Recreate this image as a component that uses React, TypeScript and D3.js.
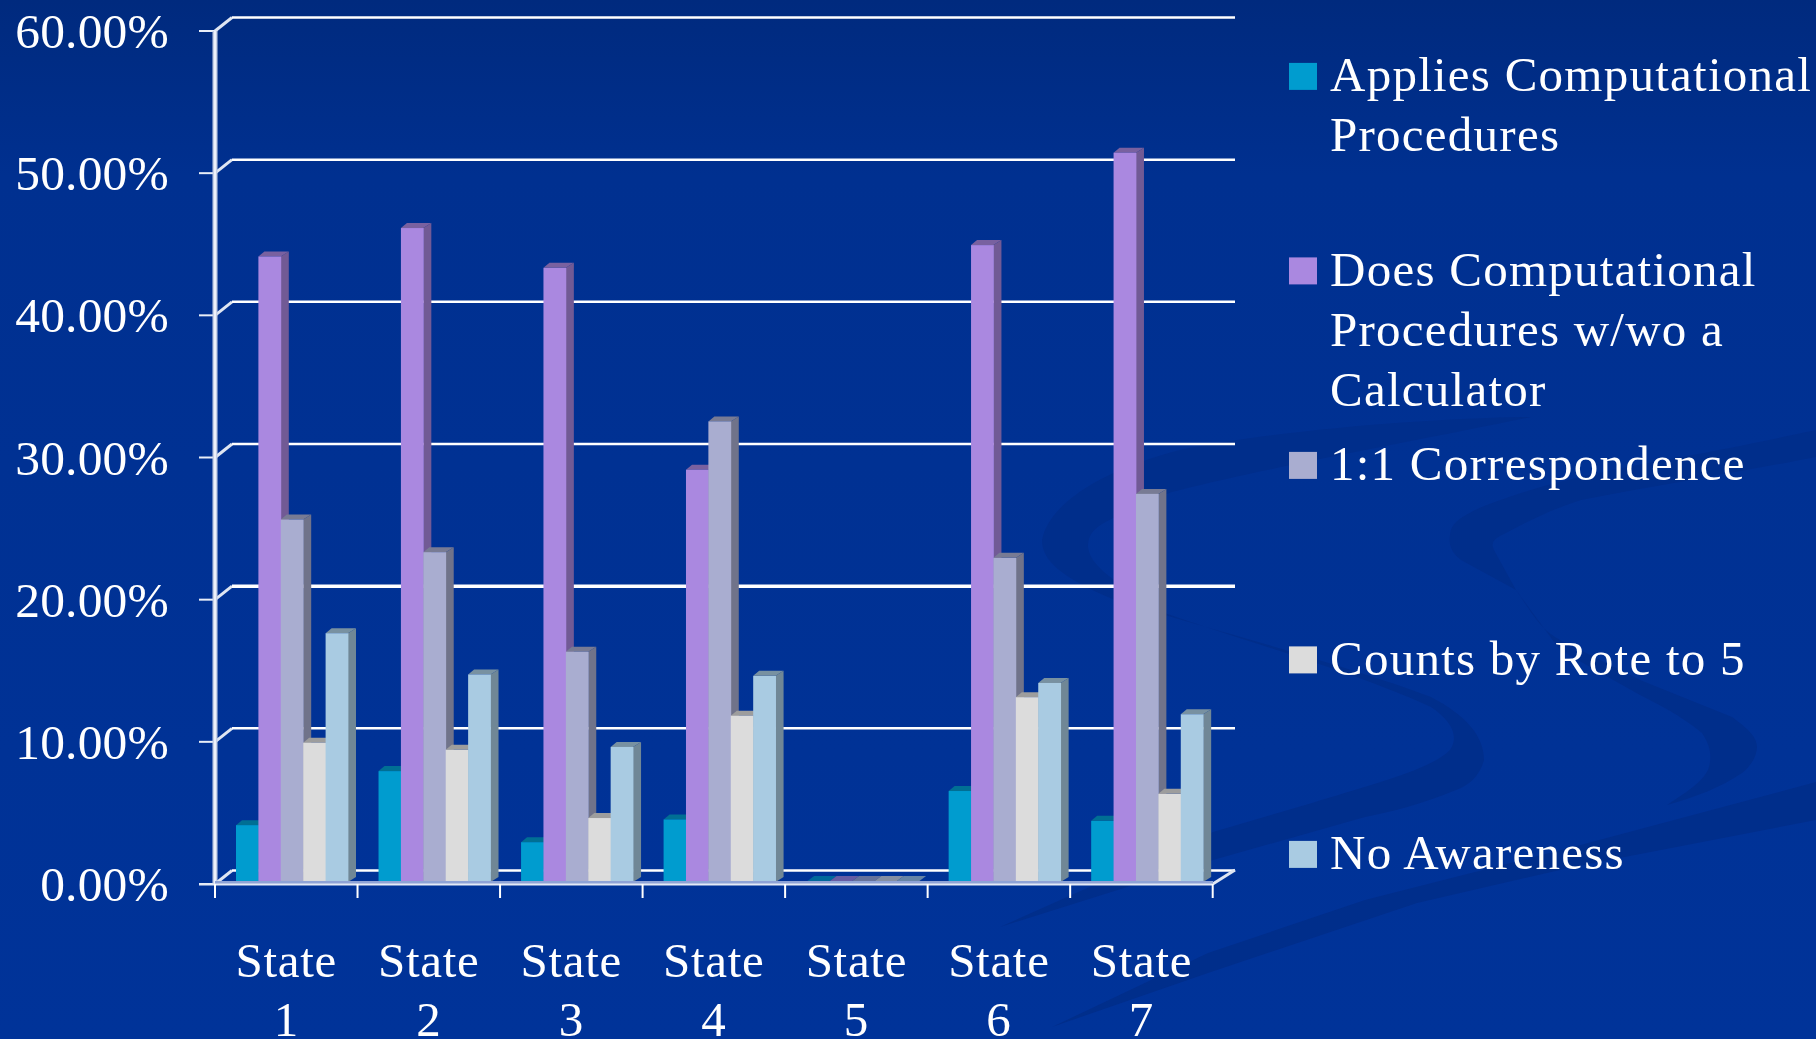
import React from "react";
import * as d3 from "d3";

const categories = ["State 1", "State 2", "State 3", "State 4", "State 5", "State 6", "State 7"];
const applies = [4.0, 7.8, 2.8, 4.4, 0, 6.4, 4.3];
const doesProc = [44.0, 46.0, 43.2, 29.0, 0, 44.8, 51.3];
const oneToOne = [25.5, 23.2, 16.2, 32.4, 0, 22.8, 27.3];
const rote = [9.8, 9.3, 4.5, 11.7, 0, 13.0, 6.2];
const noAware = [17.5, 14.6, 9.5, 14.5, 0, 14.0, 11.8];
const seriesValues = [applies, doesProc, oneToOne, rote, noAware];
const seriesColors = ["#009ccf", "#aa88e0", "#a9add0", "#dcdcdc", "#a9cbe2"];
const legendLines = [
  ["Applies Computational", "Procedures"],
  ["Does Computational", "Procedures w/wo a", "Calculator"],
  ["1:1 Correspondence"],
  ["Counts by Rote to 5"],
  ["No Awareness"],
];
const yTicks = [0, 10, 20, 30, 40, 50, 60];

const FONT = "'Liberation Serif', serif";
const W = 1816, H = 1039;
const DX = 17, DY = 13.5; // wall depth
const bx = 8, by = 5; // bar depth

const x = d3.scaleBand<string>().domain(categories).range([215, 1212.7]).paddingInner(0).paddingOuter(0);
const y = d3.scaleLinear().domain([0, 60]).range([884, 31]);
const bar = d3.scaleBand<number>().domain([0, 1, 2, 3, 4]).range([21, 133]);
const barBase = 882;
const yv = (v: number) => y(v) - (884 - barBase);

function Bars() {
  const order = [0, 1, 2, 3, 4];
  return (
    <g>
      {categories.map((c, ci) => (
        <g key={c}>
          {order.map((si) => {
            const v = seriesValues[si][ci];
            const col = d3.color(seriesColors[si])!;
            const x0 = x(c)! + bar(si)!;
            const w = bar.bandwidth();
            const t = yv(v);
            if (v === 0) {
              return (
                <polygon
                  key={si}
                  points={`${x0},${barBase} ${x0 + w},${barBase} ${x0 + w + bx},${barBase - 6} ${x0 + bx},${barBase - 6}`}
                  fill={col.darker(0.8).formatHex()}
                  opacity={0.8}
                />
              );
            }
            return (
              <g key={si}>
                <polygon points={`${x0 + w},${barBase} ${x0 + w + bx},${barBase - by} ${x0 + w + bx},${t - by} ${x0 + w},${t}`} fill={col.darker(1.15).formatHex()} />
                <polygon points={`${x0},${t} ${x0 + bx - 2},${t - by} ${x0 + w + bx},${t - by} ${x0 + w},${t}`} fill={col.darker(0.95).formatHex()} />
                <rect x={x0} y={t} width={w + 0.4} height={barBase - t} fill={col.formatHex()} />
              </g>
            );
          })}
        </g>
      ))}
    </g>
  );
}

export default function App() {
  return (
    <svg width={W} height={H} style={{ position: "fixed", left: 0, top: 0, display: "block" }} fontFamily={FONT}>
      <defs>
        <linearGradient id="bg" x1="0" y1="0" x2="0" y2="1">
          <stop offset="0" stopColor="#002a7e" />
          <stop offset="0.17" stopColor="#003090" />
          <stop offset="1" stopColor="#003399" />
        </linearGradient>
      </defs>
      <rect width={W} height={H} fill="url(#bg)" />
      <g fill="#002e8b">
        <path d="M1531,417 C1430,418 1280,430 1180,450 C1110,468 1050,500 1042,540 C1042,560 1060,577 1115,600 L1165,615 C1250,640 1360,670 1431,697 C1465,715 1484,735 1484,760 C1480,775 1470,785 1456,790 C1420,805 1390,812 1365,817 L1213,860 L1000,927 L1213,832 L1312,803 C1370,785 1430,770 1450,750 C1460,735 1450,720 1431,707 C1350,670 1240,640 1165,613 C1130,590 1090,570 1088,547 C1088,530 1100,525 1115,517 C1140,502 1170,492 1180,490 C1280,465 1420,440 1531,417 Z" />
        <path d="M1816,430 C1770,440 1720,450 1682,457 C1620,468 1570,478 1531,490 C1490,503 1455,515 1451,530 C1447,545 1452,553 1461,560 L1516,590 C1530,610 1540,630 1560,640 L1640,680 L1732,717 C1750,730 1757,738 1757,747 C1757,755 1752,765 1742,773 C1720,788 1695,797 1667,805 C1690,790 1705,780 1709,767 C1712,755 1710,745 1702,733 C1680,715 1660,705 1640,695 L1560,650 L1516,590 L1494,550 C1490,542 1495,538 1506,533 C1530,520 1555,508 1581,500 C1660,485 1750,470 1816,457 Z" />
        <path d="M1816,782 L1573,847 L1365,900 L1208,953 L1052,1027 L1208,973 L1417,903 L1573,867 L1816,820 Z" />
      </g>
      {yTicks.map((t) => (
        <g key={t}>
          <line x1={215} y1={y(t)} x2={199} y2={y(t)} stroke="#e8eef8" strokeWidth={2} />
          <line x1={215} y1={y(t)} x2={215 + DX} y2={y(t) - DY} stroke="#dfe6f2" strokeWidth={3} />
          <line x1={215 + DX} y1={y(t) - DY} x2={1235} y2={y(t) - DY} stroke="#fff" strokeWidth={t === 20 ? 3.5 : 2.5} />
          <text x={169} y={y(t) + 17} textAnchor="end" fontSize={49.5} letterSpacing={0.2} fill="#fff">{`${t.toFixed(2)}%`}</text>
        </g>
      ))}
      <line x1={215} y1={884} x2={215} y2={31} stroke="#c5cfe6" strokeWidth={5} />
      <line x1={215} y1={884} x2={215} y2={31} stroke="#eef1fa" strokeWidth={2} />
      <line x1={1212.7} y1={884} x2={1235} y2={870} stroke="#dfe6f2" strokeWidth={3} />
      <Bars />
      <rect x={215} y={881} width={998} height={3} fill="#8ea3d6" />
      <line x1={199} y1={884.5} x2={1212.7} y2={884.5} stroke="#e4eaf6" strokeWidth={2} />
      {[...categories.map((c) => x(c)!), 1212.7].map((px, i) => (
        <line key={i} x1={px} y1={884} x2={px} y2={898} stroke="#fff" strokeWidth={2} />
      ))}
      {categories.map((c) => {
        const [a, b] = c.split(" ");
        const cx = x(c)! + x.bandwidth() / 2;
        return (
          <text key={c} textAnchor="middle" fontSize={49} letterSpacing={0.7} fill="#fff">
            <tspan x={cx} y={977}>{a}</tspan>
            <tspan x={cx} y={1036}>{b}</tspan>
          </text>
        );
      })}
      {legendLines.map((lines, i) => {
        const cy = 76.4 + i * 194.5;
        return (
          <g key={i}>
            <rect x={1289} y={cy - 13.5} width={28} height={27} fill={seriesColors[i]} />
            {lines.map((l, j) => (
              <text key={j} x={1330} y={cy + 15 + j * 60} fontSize={49} letterSpacing={1.25} fill="#fff">{l}</text>
            ))}
          </g>
        );
      })}
    </svg>
  );
}
